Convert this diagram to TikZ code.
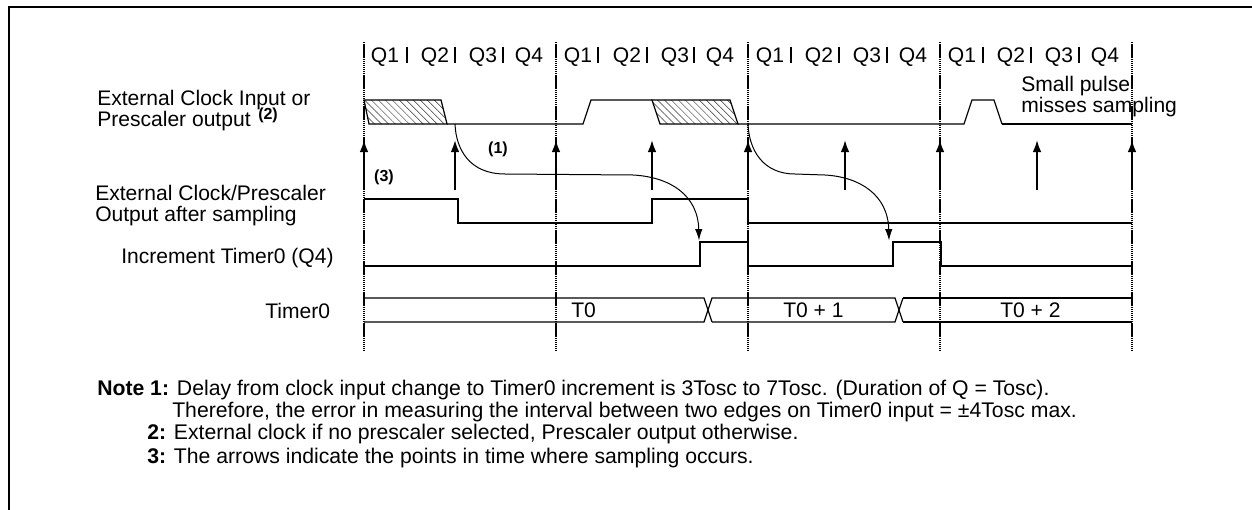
\documentclass[tikz,border=0pt]{standalone}
\usepackage{fontspec}
\setmainfont{Liberation Sans}
\usetikzlibrary{patterns.meta,arrows.meta}
\tikzset{
  x=0.75pt,y=-0.75pt,
  frameline/.style={line width=1.5pt,black},
  gridline/.style={line width=1.7pt,black,dash pattern=on 1.1pt off 0.45pt},
  sig/.style={line width=1.5pt,black},
  thin sig/.style={line width=0.9pt,black},
  hatch/.style={draw=black,line width=0.9pt,pattern={Lines[angle=-45,distance=3.7pt,line width=0.35pt]},pattern color=black!80},
  sample/.style={line width=1.5pt,black,-{Latex[length=9pt,width=6.5pt]}},
  delay/.style={line width=0.75pt,black,-{Latex[length=8.5pt,width=5.5pt]}},
  lab/.style={font=\fontsize{15.8}{15.8}\selectfont,inner sep=0pt,anchor=base west,align=left},
  ql/.style={font=\fontsize{15.8}{15.8}\selectfont,inner sep=0pt,anchor=base},
  notelab/.style={font=\fontsize{15.9}{15.9}\selectfont,inner sep=0pt,anchor=base west},
  tag/.style={font=\fontsize{12}{12}\selectfont\bfseries,inner sep=0pt}
}
\begin{document}
\begin{tikzpicture}
\useasboundingbox (0,0) rectangle (1252,510);
% frame
\draw[frameline] (9,510) -- (9,7) -- (1252,7);
% hatched regions
\draw[hatch] (364,100) -- (441,100) -- (447,124) -- (369,124) -- cycle;
\draw[hatch] (652,100) -- (730,100) -- (738,124) -- (660,124) -- cycle;
% signal 1
\coordinate (s0) at (447,124);
\coordinate (s1) at (583,124);
\coordinate (s2) at (591,100);
\coordinate (s3) at (652,100);
\coordinate (s4) at (738,124);
\coordinate (s5) at (964,124);
\coordinate (s6) at (972,100);
\coordinate (s7) at (994,100);
\coordinate (s8) at (1002,124);
\coordinate (s9) at (1132,124);
\draw[thin sig] (s0) -- (s1) -- (s2) -- (s3);
\draw[thin sig] (s4) -- (s5) -- (s6) -- (s7) -- (s8);
\draw[sig] (s8) -- (s9);
% after sampling
\draw[sig] (364,199) -- (458,199) -- (458,223) -- (652,223) -- (652,199) -- (748,199) -- (748,223) -- (1132,223);
% increment
\draw[sig] (364,266) -- (700,266) -- (700,242) -- (748,242) -- (748,266) -- (893,266) -- (893,242) -- (941,242) -- (941,266) -- (1132,266);
% timer
\draw[thin sig] (364,298) -- (704,298) -- (712,322);
\draw[thin sig] (364,322) -- (704,322) -- (712,298) -- (895,298) -- (903,322);
\draw[thin sig] (712,322) -- (895,322) -- (903,298);
\draw[sig] (903,298) -- (1132,298);
\draw[sig] (903,322) -- (1132,322);
% sample arrows
\foreach \n/\x in {a/364,b/455,c/556,d/652,e/748,f/845,g/940,h/1037,i/1132}{
  \coordinate (\n0) at (\x,190);
  \coordinate (\n1) at (\x,140);
  \draw[sample] (\n0) -- (\n1);
}
% grid lines
\foreach \n/\x in {p/364,q/556,r/748,s/940,t/1132}{
  \coordinate (\n0) at (\x,42);
  \coordinate (\n1) at (\x,350);
  \draw[gridline] (\n0) -- (\n1);
}
% delay curves
\draw[delay] (455,124) .. controls (456,150) and (470,174) .. (505,174)
  -- (633,175) .. controls (670,177) and (698,195) .. (699,240.5);
\draw[delay] (748,124) .. controls (749,150) and (763,174) .. (795,174)
  -- (825,175) .. controls (860,177) and (888,195) .. (889,240.5);
% Q labels
\foreach \n/\x/\t in {qa/385/Q1,qb/435/Q2,qc/483/Q3,qd/529/Q4,qe/578/Q1,qf/627/Q2,qg/675/Q3,qh/720/Q4,qi/770/Q1,qj/819/Q2,qk/867/Q3,ql/913/Q4,qm/962/Q1,qn/1011/Q2,qo/1059/Q3,qp/1105/Q4}{
  \node[ql] (\n) at (\x,63) {\t};
}
\foreach \n/\x in {ba/407,bb/455,bc/503,dd/598,de/647,df/694,ea/791,eb/839,ec/887,fa/983,fb/1031,fc/1079}{
  \coordinate (\n0) at (\x,47);
  \coordinate (\n1) at (\x,63);
  \draw[line width=1.5pt] (\n0) -- (\n1);
}
% labels
\node[lab] (l1) at (97,105) {External Clock Input or};
\node[lab] (l2) at (97,126) {Prescaler output};
\node[tag,anchor=base west] (l2t) at (258,119) {(2)};
\node[lab] (l3) at (95,200) {External Clock/Prescaler};
\node[lab] (l4) at (95,221) {Output after sampling};
\node[lab] (l5) at (121,263) {Increment Timer0 (Q4)};
\node[lab] (l6) at (265,318) {Timer0};
\node[tag] (t1) at (498,149) {(1)};
\node[tag] (t3) at (384,177) {(3)};
\node[lab] (sp1) at (1021,92) {Small pulse};
\node[lab] (sp2) at (1021,113) {misses sampling};
\node[lab] (t0) at (571,317) {T0};
\node[lab] (t01) at (783,317) {T0 + 1};
\node[lab] (t02) at (1000,317) {T0 + 2};
% notes
\node[notelab] (n1) at (97,395) {\textbf{Note 1:} Delay from clock input change to Timer0 increment is 3Tosc to 7Tosc. (Duration of Q = Tosc).};
\node[notelab] (n2) at (172,417) {Therefore, the error in measuring the interval between two edges on Timer0 input = ±4Tosc max.};
\node[notelab] (n3) at (147,439) {\textbf{2:} External clock if no prescaler selected, Prescaler output otherwise.};
\node[notelab] (n4) at (147,463) {\textbf{3:} The arrows indicate the points in time where sampling occurs.};
\end{tikzpicture}
\end{document}
